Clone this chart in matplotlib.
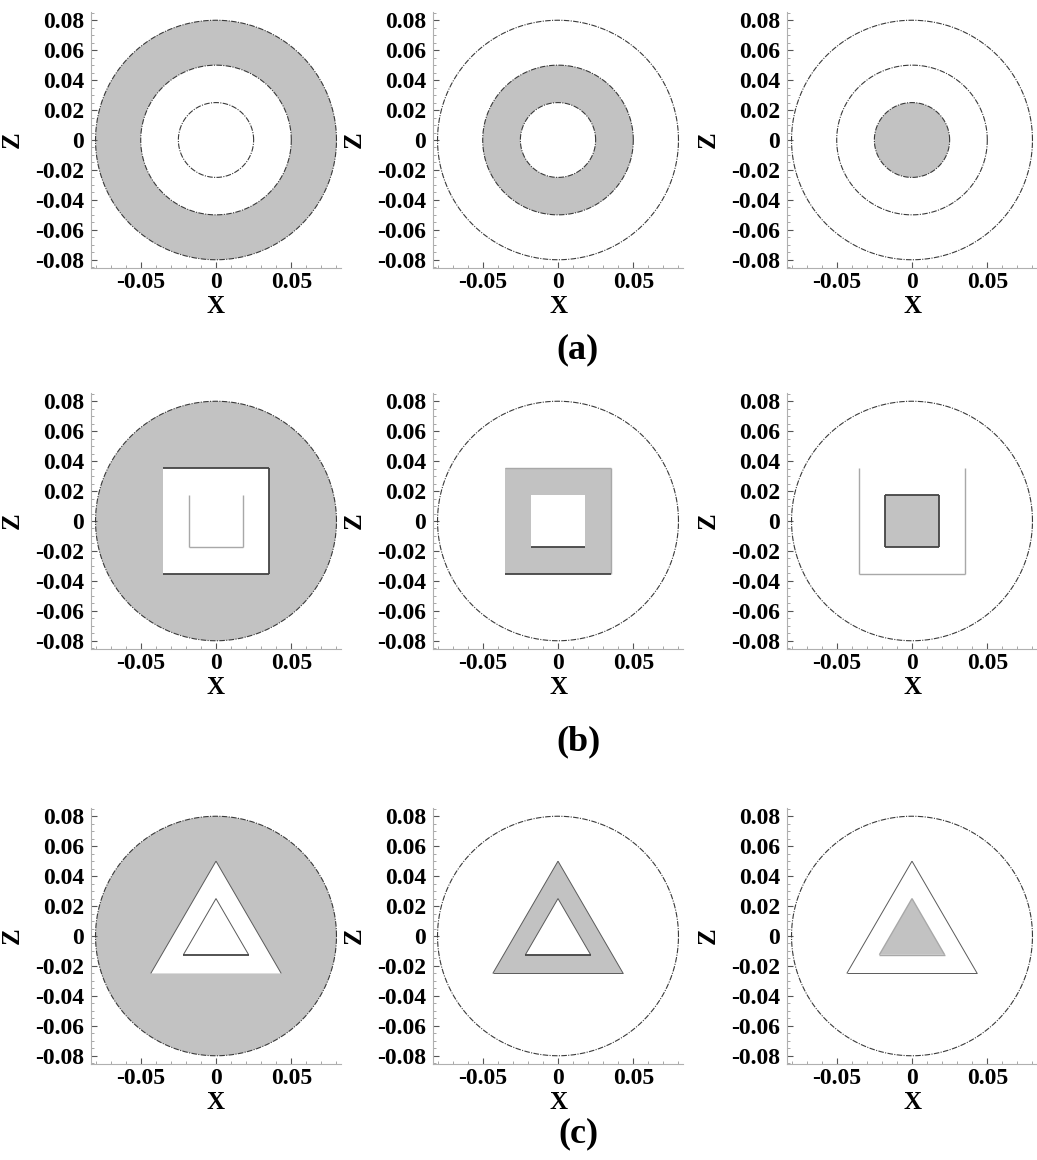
import numpy as np
import matplotlib
matplotlib.use('Agg')
import matplotlib.pyplot as plt
from matplotlib.ticker import FixedLocator, FixedFormatter, MultipleLocator

# ---------------- data ----------------
radii = [0.08, 0.05, 0.025]              # outer domain, middle boundary, inner boundary
row_shapes = ['circle', 'square', 'triangle']
panel_tags = ['(a)', '(b)', '(c)']
x_ticks = [-0.05, 0.0, 0.05]
x_tick_labels = ['-0.05', '0', '0.05']
z_ticks = [-0.08, -0.06, -0.04, -0.02, 0.0, 0.02, 0.04, 0.06, 0.08]
z_tick_labels = ['-0.08', '-0.06', '-0.04', '-0.02', '0', '0.02', '0.04', '0.06', '0.08']
x_limits = (-0.083, 0.083)
z_limits = (-0.0855, 0.0855)

# ---------------- styling ----------------
plt.rcParams['font.family'] = ['Liberation Serif', 'DejaVu Serif']
GRAY = '#c2c2c2'
W, H = 1037, 1160
fig = plt.figure(figsize=(W / 100, H / 100), dpi=100)

col_left_px = [91, 433, 787]
row_top_px = [12, 393, 808]
ax_w_px, ax_h_px = 250, 256
tag_y_px = [350, 742, 1134]

DARK = dict(color='#444444', lw=1.3)
THIN = dict(color='#5a5a5a', lw=0.7)
LIGHT = dict(color='#a8a8a8', lw=1.0)
CIRC = dict(color='#3a3a3a', lw=0.8, ls=(0, (5, 1.2, 1, 1.2)))

# which polygon edges are drawn in each panel (row, col) -> {boundary index: {edge: style}}
edge_spec = {
    (1, 0): {1: {'top': DARK, 'right': DARK, 'bottom': DARK},
             2: {'left': LIGHT, 'bottom': LIGHT, 'right': LIGHT}},
    (1, 1): {1: {'top': LIGHT, 'right': LIGHT, 'bottom': DARK},
             2: {'bottom': DARK}},
    (1, 2): {1: {'left': LIGHT, 'bottom': LIGHT, 'right': LIGHT},
             2: {'top': DARK, 'right': DARK, 'bottom': DARK, 'left': DARK}},
    (2, 0): {1: {'left': THIN, 'right': THIN},
             2: {'left': THIN, 'right': THIN, 'base': DARK}},
    (2, 1): {1: {'left': THIN, 'right': THIN, 'base': THIN},
             2: {'left': THIN, 'right': THIN, 'base': DARK}},
    (2, 2): {1: {'left': THIN, 'right': THIN, 'base': THIN},
             2: {'left': LIGHT, 'right': LIGHT, 'base': LIGHT}},
}


def outline(shape, r):
    if shape == 'circle':
        t = np.linspace(0, 2 * np.pi, 721)
        return r * np.cos(t), r * np.sin(t), {}
    if shape == 'square':
        s = r / np.sqrt(2)
        vx = np.array([-s, s, s, -s])
        vz = np.array([s, s, -s, -s])
        edges = {'top': (0, 1), 'right': (1, 2), 'bottom': (2, 3), 'left': (3, 0)}
        return vx, vz, edges
    h = r * np.sqrt(3) / 2
    vx = np.array([0.0, h, -h])
    vz = np.array([r, -r / 2, -r / 2])
    edges = {'right': (0, 1), 'base': (1, 2), 'left': (2, 0)}
    return vx, vz, edges


for i, shape in enumerate(row_shapes):
    for j in range(3):
        left = col_left_px[j] / W
        bottom = 1 - (row_top_px[i] + ax_h_px) / H
        ax = fig.add_axes([left, bottom, ax_w_px / W, ax_h_px / H])
        ax.set_xlim(*x_limits)
        ax.set_ylim(*z_limits)

        # fill region: between boundary j and boundary j+1
        bx = [outline('circle' if k == 0 else shape, radii[k]) for k in range(3)]
        ax.fill(bx[j][0], bx[j][1], color=GRAY, lw=0, zorder=1)
        if j + 1 < 3:
            ax.fill(bx[j + 1][0], bx[j + 1][1], color='white', lw=0, zorder=2)

        # outlines
        for k in range(3):
            xs, zs, edges = bx[k]
            if k == 0 or shape == 'circle':
                ax.plot(np.append(xs, xs[0]), np.append(zs, zs[0]), zorder=3, **CIRC)
            else:
                for name, st in edge_spec[(i, j)].get(k, {}).items():
                    a, b = edges[name]
                    ax.plot([xs[a], xs[b]], [zs[a], zs[b]], zorder=3,
                            solid_capstyle='butt', **st)

        # axes styling
        for sp in ['top', 'right']:
            ax.spines[sp].set_visible(False)
        for sp in ['left', 'bottom']:
            ax.spines[sp].set_color('#b0b0b0')
            ax.spines[sp].set_linewidth(0.8)
        ax.xaxis.set_major_locator(FixedLocator(x_ticks))
        ax.xaxis.set_major_formatter(FixedFormatter(x_tick_labels))
        ax.yaxis.set_major_locator(FixedLocator(z_ticks))
        ax.yaxis.set_major_formatter(FixedFormatter(z_tick_labels))
        ax.xaxis.set_minor_locator(MultipleLocator(0.01))
        ax.yaxis.set_minor_locator(MultipleLocator(0.005))
        ax.tick_params(which='major', direction='in', length=4, width=0.8,
                       color='#555555', labelsize=17, pad=5)
        ax.tick_params(axis='x', which='major', pad=3)
        ax.tick_params(which='minor', direction='in', length=2.5, width=0.6,
                       color='#999999')
        for lab in ax.get_xticklabels() + ax.get_yticklabels():
            lab.set_fontweight('bold')
        ax.set_xlabel('X', fontsize=18, fontweight='bold')
        ax.set_ylabel('Z', fontsize=18, fontweight='bold')
        ax.xaxis.set_label_coords(0.5, -0.105)
        ax.yaxis.set_label_coords(-0.27, 0.5)

    fig.text(578 / W, 1 - tag_y_px[i] / H, panel_tags[i], ha='center', va='center',
             fontsize=26, fontweight='bold')

fig.savefig('out.png', dpi=100)
